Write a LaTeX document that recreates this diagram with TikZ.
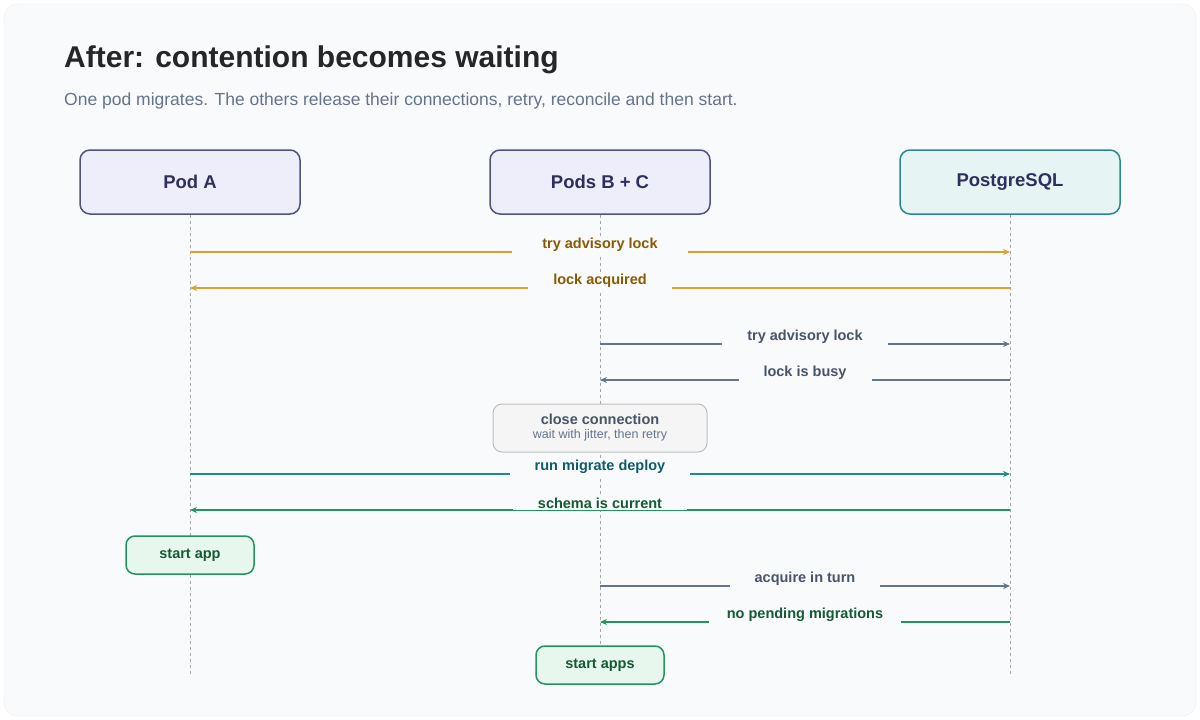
\documentclass[tikz,border=0pt]{standalone}
\usepackage{fontspec}
\setmainfont{Liberation Sans}
\usetikzlibrary{arrows.meta}
\definecolor{bg}{HTML}{F8FAFC}
\definecolor{navy}{HTML}{2E2F5E}
\definecolor{podfill}{HTML}{EEEEFA}
\definecolor{podline}{HTML}{4F5283}
\definecolor{pgfill}{HTML}{E6F4F4}
\definecolor{pgline}{HTML}{2A8A8A}
\definecolor{orng}{HTML}{E0A030}
\definecolor{orngt}{HTML}{8A5A00}
\definecolor{slate}{HTML}{64748B}
\definecolor{slatet}{HTML}{475569}
\definecolor{teal}{HTML}{1F8A8A}
\definecolor{tealt}{HTML}{0E5C6B}
\definecolor{grn}{HTML}{24945E}
\definecolor{grnt}{HTML}{145A32}
\definecolor{grnfill}{HTML}{E8F7EE}
\begin{document}
\begin{tikzpicture}[x=1pt,y=-1pt,
  actor/.style={draw=podline,fill=podfill,rounded corners=10pt,line width=1.5pt,minimum width=220pt,minimum height=64pt,font=\fontsize{18.5}{20}\selectfont\bfseries,text=navy},
  life/.style={draw=gray!70,dashed,line width=1pt},
  msg/.style={line width=2.5pt,-{Stealth[length=7pt,width=6pt]}},
  lbl/.style={fill=bg,font=\fontsize{14.5}{16}\selectfont\bfseries,inner xsep=25pt,inner ysep=2pt},
  done/.style={draw=grn,fill=grnfill,rounded corners=9pt,line width=1.5pt,minimum width=128pt,minimum height=38pt,font=\fontsize{14.5}{16}\selectfont\bfseries,text=grnt}]
\useasboundingbox (0,0) rectangle (1200,720);
\fill[white] (0,0) rectangle (1200,720);
\fill[bg,draw=gray!15,rounded corners=14pt] (4,4) rectangle (1196,716);
\node[anchor=west,font=\fontsize{30}{34}\selectfont\bfseries,text=black!85,inner xsep=0pt] (title) at (64,60) {After: contention becomes waiting};
\node[anchor=west,font=\fontsize{17.5}{20}\selectfont,text=slate,inner xsep=0pt] (sub) at (64,101) {One pod migrates. The others release their connections, retry, reconcile and then start.};
\node[actor] (A) at (190,182) {Pod A};
\node[actor] (B) at (600,182) {Pods B + C};
\node[actor,draw=pgline,fill=pgfill] (P) at (1010,182) {PostgreSQL};
\coordinate (Ae) at (190,675); \coordinate (Be) at (600,675); \coordinate (Pe) at (1010,675);
\draw[life] (A) -- (Ae); \draw[life] (B) -- (Be); \draw[life] (P) -- (Pe);
\coordinate (a1) at (190,252); \coordinate (p1) at (1010,252);
\draw[msg,orng] (a1) -- (p1) node[lbl,text=orngt,pos=.5,yshift=7pt,inner xsep=30pt] {try advisory lock};
\coordinate (a2) at (190,288); \coordinate (p2) at (1010,288);
\draw[msg,orng] (p2) -- (a2) node[lbl,text=orngt,pos=.5,yshift=7pt] {lock acquired};
\coordinate (b3) at (600,344); \coordinate (p3) at (1010,344);
\draw[msg,slate] (b3) -- (p3) node[lbl,text=slatet,pos=.5,yshift=7pt] {try advisory lock};
\coordinate (b4) at (600,380); \coordinate (p4) at (1010,380);
\draw[msg,slate] (p4) -- (b4) node[lbl,text=slatet,pos=.5,yshift=7pt] {lock is busy};
\node[draw=gray!50,fill=gray!8,rounded corners=9pt,line width=1pt,minimum width=214pt,minimum height=48pt,align=center] (close) at (600,428)
 {{\fontsize{14.5}{16}\selectfont\bfseries\color{slatet}close connection}\\[2pt]{\fontsize{12.5}{14}\selectfont\color{slate}wait with jitter, then retry}};
\coordinate (a5) at (190,474); \coordinate (p5) at (1010,474);
\draw[msg,teal] (a5) -- (p5) node[lbl,text=tealt,pos=.5,yshift=7pt] {run migrate deploy};
\coordinate (a6) at (190,510); \coordinate (p6) at (1010,510);
\draw[msg,grn] (p6) -- (a6) node[lbl,text=grnt,pos=.5,yshift=7pt] {schema is current};
\node[done] (sa) at (190,555) {start app};
\coordinate (b7) at (600,586); \coordinate (p7) at (1010,586);
\draw[msg,slate] (b7) -- (p7) node[lbl,text=slatet,pos=.5,yshift=7pt] {acquire in turn};
\coordinate (b8) at (600,622); \coordinate (p8) at (1010,622);
\draw[msg,grn] (p8) -- (b8) node[lbl,text=grnt,pos=.5,yshift=7pt,inner xsep=18pt] {no pending migrations};
\node[done] (sb) at (600,665) {start apps};
\end{tikzpicture}
\end{document}
